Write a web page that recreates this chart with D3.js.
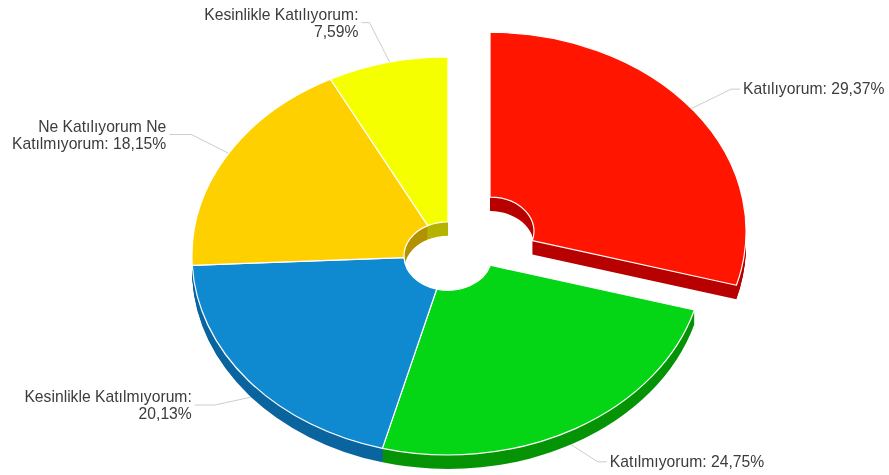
<!DOCTYPE html>
<html><head><meta charset="utf-8">
<style>html,body{margin:0;padding:0;background:#fff}svg{display:block;filter:blur(0.4px)}text{font-family:"Liberation Sans",Arial,sans-serif;font-size:15.7px;fill:#3c3c3c}</style>
<script src="https://cdn.jsdelivr.net/npm/d3@7"></script>
</head><body><div id="c"></div>
<script>
const categories=["Katılıyorum","Katılmıyorum","Kesinlikle Katılmıyorum","Ne Katılıyorum Ne Katılmıyorum","Kesinlikle Katılıyorum"];
const values=[29.37,24.75,20.13,18.15,7.59];
const labelLines=[["Katılıyorum: 29,37%"],["Katılmıyorum: 24,75%"],["Kesinlikle Katılmıyorum:","20,13%"],["Ne Katılıyorum Ne","Katılmıyorum: 18,15%"],["Kesinlikle Katılıyorum:","7,59%"]];
const topColors=["#ff1500","#04d615","#0f8ad0","#ffd000","#f6ff00"];
const sideColors=["#b80000","#069406","#0b659f","#b39200","#b5b300"];
const exploded=[52.7,0,0,0,0];
// leader geometry relative to the slice's rim point: knee offset, then label offset
const kneeOffset=[[37,-22],[23,18],[-34,9],[-35,-22],[-18,-40]];
const tailLength=[9,9,20,22,8];

const W=889,H=475,cx=448,cy=256,R=256,r=44,tilt=199/256,depth=14;
const svg=d3.select("#c").append("svg").attr("width",W).attr("height",H);
const arcs=d3.pie().sort(null).value(d=>d)(values);
const arc=d3.arc().outerRadius(R).innerRadius(r);
const off=(d,i)=>{const m=(d.startAngle+d.endAngle)/2;return [exploded[i]*Math.sin(m),-exploded[i]*Math.cos(m)*tilt];};
const pos=(d,i,dz)=>{const o=off(d,i);return `translate(${cx+o[0]},${cy+o[1]+dz}) scale(1,${tilt})`;};

const g=svg.append("g");
arcs.forEach((d,i)=>{
  const m=(d.startAngle+d.endAngle)/2,o=off(d,i);
  const x0=cx+o[0]+R*Math.sin(m), y0=cy+o[1]-R*Math.cos(m)*tilt+(i>0&&i<3?15:0);
  const kx=x0+kneeOffset[i][0], ky=y0+kneeOffset[i][1];
  const right=i<2;
  const ex=kx+(right?tailLength[i]:-tailLength[i]);
  const rim=[x0-(right?10:-10)*Math.sin(m)*(right?1:-1),y0];
  g.append("path").attr("d",d3.line()([rim,[kx,ky],[ex,ky]])).attr("fill","none").attr("stroke","#ccc").attr("stroke-width",1);
  const t=g.append("text").attr("text-anchor",right?"start":"end");
  const lines=labelLines[i];
  lines.forEach((s,j)=>t.append("tspan").attr("x",ex+(right?3:-3)).attr("y",ky+5+j*17-(lines.length>1?8:0)).text(s));
});

const pie=svg.append("g");
d3.range(depth,0,-1).forEach(dz=>{
  pie.append("g").selectAll("path").data(arcs).join("path")
    .attr("d",arc).attr("transform",(d,i)=>pos(d,i,dz))
    .attr("fill",(d,i)=>sideColors[i]);
});
pie.append("g").selectAll("path").data(arcs).join("path")
  .attr("d",arc).attr("transform",(d,i)=>pos(d,i,0))
  .attr("fill",(d,i)=>topColors[i]).attr("stroke","#fff").attr("stroke-width",1.2)
  .attr("vector-effect","non-scaling-stroke").attr("stroke-linejoin","round");
</script></body></html>
